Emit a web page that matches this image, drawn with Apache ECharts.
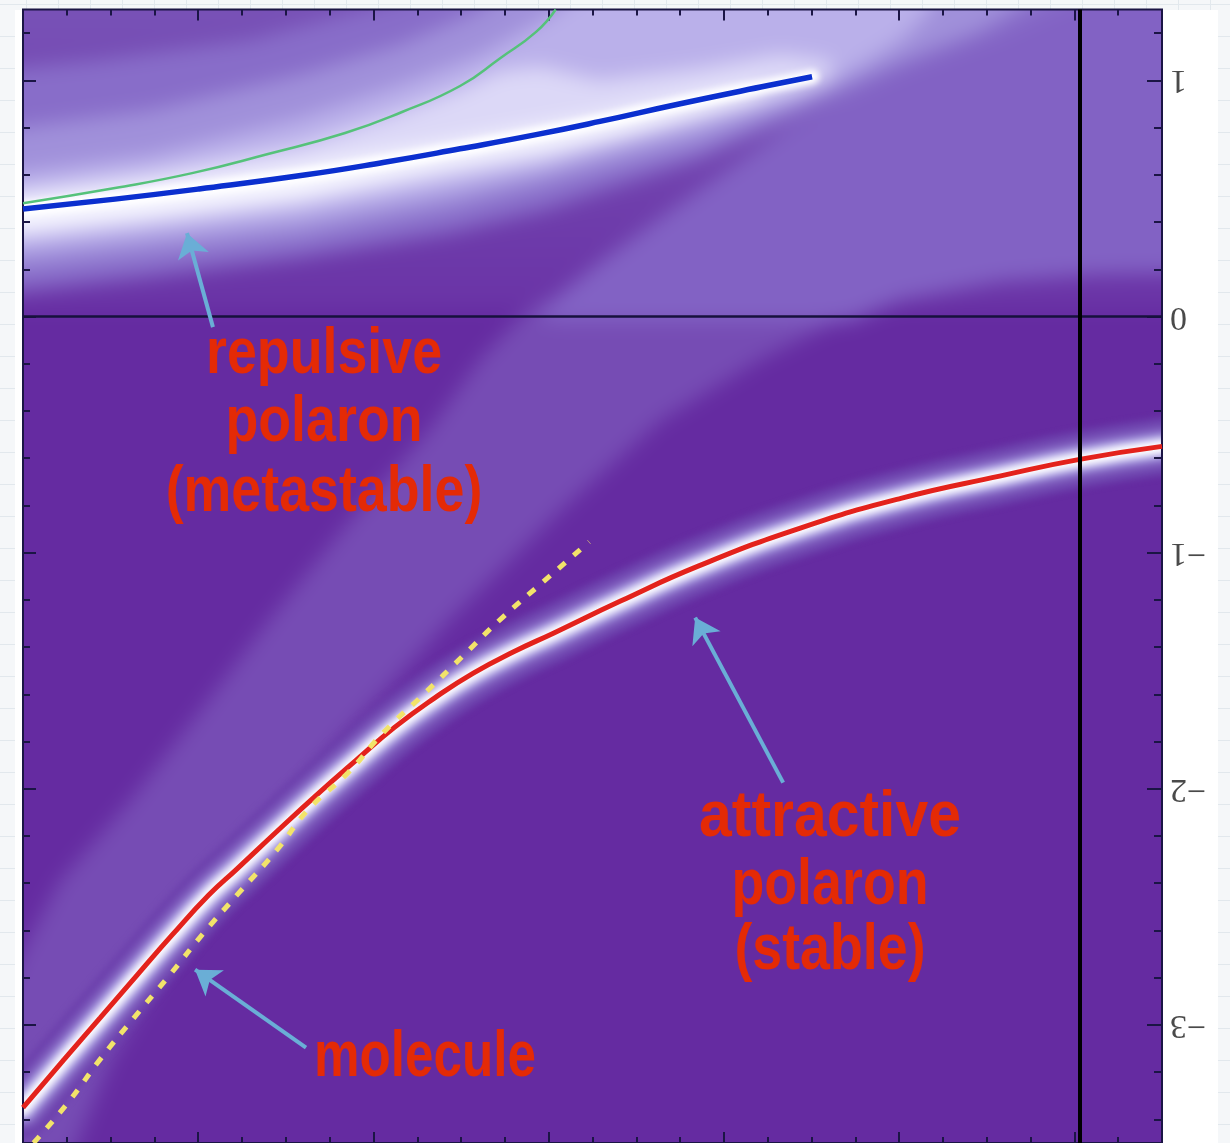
<!DOCTYPE html>
<html><head><meta charset="utf-8">
<script src="https://cdn.jsdelivr.net/npm/echarts@6/dist/echarts.min.js"></script>
<style>
html,body{margin:0;padding:0;width:1230px;height:1143px;overflow:hidden;}
body{position:relative;background-color:#f5f7f9;background-image:linear-gradient(#e2e8ed 1px,transparent 1px),linear-gradient(90deg,#e2e8ed 1px,transparent 1px);background-size:32px 32px;background-position:-6px 4px;}
#panel{position:absolute;left:15px;top:10px;width:1203px;height:1133px;background:#ffffff;}
.bg{position:absolute;left:-100px;top:-100px;width:1430px;height:1343px;clip-path:inset(109.5px 168px 99px 123px);}
#bgBig{filter:blur(10px);}
#bgFine{filter:blur(3px);}
#fg{position:absolute;left:0;top:0;width:1230px;height:1143px;}
</style></head><body>
<div id="panel"></div>
<div id="bgBig" class="bg"></div>
<div id="bgFine" class="bg"></div>
<div id="fg"></div>
<script>
// ---------- data (x: arbitrary units 0..6.5, y: energy) ----------
const yMajorTicks = [-3, -2, -1, 0, 1];
const yMinorTicks = [-3.4, -3.2, -2.8, -2.6, -2.4, -2.2, -1.8, -1.6, -1.4, -1.2, -0.8, -0.6, -0.4, -0.2, 0.2, 0.4, 0.6, 0.8, 1.2];

const attractiveX = [0, 0.23, 0.44, 0.65, 0.85, 1.06, 1.22, 1.45, 1.67, 1.90, 2.12, 2.35, 2.57, 2.80, 3.03, 3.41, 3.86, 4.44, 5.01, 5.58, 6.03, 6.5];
const attractiveY = [-3.35, -3.15, -2.97, -2.79, -2.62, -2.45, -2.34, -2.18, -2.03, -1.88, -1.74, -1.615, -1.51, -1.42, -1.34, -1.205, -1.055, -0.895, -0.77, -0.675, -0.605, -0.55];

const moleculeX = [0.06, 0.257, 0.439, 0.634, 0.839, 1.033, 1.233, 1.450, 1.627, 1.855, 2.055, 2.295, 2.506, 2.734, 2.962, 3.231];
const moleculeY = [-3.50, -3.329, -3.147, -2.969, -2.787, -2.609, -2.440, -2.258, -2.089, -1.932, -1.763, -1.594, -1.441, -1.276, -1.128, -0.954];

const repulsiveX = [0, 0.525, 1.005, 1.615, 2.055, 2.494, 2.928, 3.293, 3.744, 4.252, 4.503];
const repulsiveY = [0.455, 0.497, 0.540, 0.600, 0.652, 0.710, 0.770, 0.826, 0.900, 0.978, 1.015];

const greenX = [0, 0.525, 0.965, 1.398, 1.838, 2.163, 2.494, 2.723, 2.928, 3.04];
const greenY = [0.48, 0.544, 0.607, 0.688, 0.777, 0.866, 0.976, 1.094, 1.205, 1.30];

const zeroLineY = 0;
const verticalLineX = 6.03;

// annotation arrows: [tailX, tailY, tipX, tipY]
const arrowRepulsive = [1.084, -0.045, 0.936, 0.353];
const arrowAttractive = [4.338, -1.974, 3.836, -1.275];
const arrowMolecule = [1.615, -3.096, 0.982, -2.766];

// spectral-density shading: contour outlines [x, y]
const upperBase = [[-0.3, 0.03], [6.9, 0.03], [6.9, 1.5], [-0.3, 1.5]];
const continuumBand = [[-0.13,-2.89],[0,-2.68],[0.21,-2.39],[0.61,-2.05],[1.01,-1.67],[1.41,-1.28],[1.87,-0.86],[2.32,-0.48],[2.61,-0.18],[2.84,0.00],[2.98,0.07],
  [4.89,0.07],[4.21,-0.18],[3.64,-0.44],[3.07,-0.82],[2.44,-1.28],[1.81,-1.79],[1.30,-2.26],[0.84,-2.72],[0.50,-3.15],[0.27,-3.57],[-0.13,-3.57]];
const continuumRegion = [[2.92,0.00],[3.07,0.10],[3.29,0.23],[3.64,0.42],[3.98,0.60],[4.38,0.81],[4.89,1.01],[5.46,1.18],[5.92,1.34],[7.0,1.43],
  [7.0,0.19],[6.15,0.18],[5.58,0.15],[5.01,0.07],[4.72,-0.02],[3.07,-0.02]];
const glow1 = [[-0.13,0.10],[0,0.11],[0.73,0.17],[1.58,0.25],[2.44,0.355],[2.98,0.451],[3.41,0.557],[3.86,0.663],[4.38,0.832],[5.01,1.035],[5.58,1.19],[6.03,1.34],[6.15,1.43],
  [2.44,1.425],[2.15,1.34],[1.30,1.171],[0.44,1.086],[-0.13,1.044]];
const glow2 = [[-0.13,0.20],[0,0.21],[0.73,0.27],[1.58,0.34],[2.44,0.46],[2.98,0.557],[3.41,0.642],[3.86,0.726],[4.44,0.891],[5.01,1.08],[5.46,1.21],[5.75,1.34],[5.86,1.43],
  [2.84,1.425],[2.61,1.298],[2.15,1.15],[1.58,1.023],[0.73,0.874],[-0.13,0.79]];
const glow3 = [[-0.13,0.27],[0,0.28],[0.73,0.34],[1.58,0.41],[2.44,0.53],[2.98,0.62],[3.41,0.71],[3.86,0.798],[4.44,0.934],[4.72,1.035],[5.01,1.171],[5.18,1.298],[5.23,1.425],
  [3.29,1.425],[3.01,1.277],[2.61,1.107],[2.15,0.98],[1.58,0.84],[0.73,0.684],[-0.13,0.60]];
const glow4 = [[-0.13,0.32],[0,0.33],[0.73,0.39],[1.58,0.47],[2.44,0.59],[2.98,0.66],[3.41,0.75],[3.86,0.84],[4.32,0.93],[4.61,1.00],
  [4.61,1.08],[4.32,1.11],[3.86,1.05],[3.29,1.00],[2.95,1.06],[2.72,1.04],[2.49,0.96],[2.15,0.866],[1.58,0.726],[0.73,0.612],[-0.13,0.528]];
const glow5 = [[-0.13,0.37],[0,0.37],[0.73,0.43],[1.58,0.51],[2.44,0.64],[2.98,0.71],[3.41,0.77],[3.86,0.86],[4.21,0.93],
  [4.21,0.98],[3.86,0.94],[3.29,0.85],[2.44,0.74],[1.58,0.64],[0.73,0.56],[-0.13,0.49]];

// ---------- helpers ----------
function zip(xs, ys) { return xs.map((x, i) => [x, ys[i]]); }
const attractive = zip(attractiveX, attractiveY);
const molecule = zip(moleculeX, moleculeY);
const repulsive = zip(repulsiveX, repulsiveY);
const green = zip(greenX, greenY);

function poly(pts, fill) {
  return {
    type: 'custom', coordinateSystem: 'cartesian2d', clip: false, silent: true,
    data: [[0, 0]],
    renderItem: function (params, api) {
      return { type: 'polygon', shape: { points: pts.map(p => api.coord(p)) }, style: { fill: fill } };
    }
  };
}
function glowLine(data, width, color) {
  return { type: 'line', data: data, smooth: true, symbol: 'none', silent: true, clip: false,
    lineStyle: { color: color, width: width, cap: 'round', join: 'round' } };
}
const bgGrid = { left: 123, top: 109.5, width: 1139, height: 1134, show: false };
const bgX = { type: 'value', min: 0, max: 6.5, show: false };
const bgY = { type: 'value', min: -3.5, max: 1.3, show: false };

// ---------- broad shading layer ----------
const big = echarts.init(document.getElementById('bgBig'), null, { renderer: 'canvas' });
big.setOption({
  animation: false,
  backgroundColor: '#652ba1',
  grid: bgGrid, xAxis: bgX, yAxis: bgY,
  series: [
    poly(upperBase, new echarts.graphic.LinearGradient(0, 0, 0, 1, [{ offset: 0, color: '#7a56b9' }, { offset: 1, color: '#6a33a6' }])),
    poly(continuumBand, '#764cb4'),
    poly(continuumRegion, '#8262c4'),
    poly(glow1, '#886dc9'),
    poly(glow2, '#a090da'),
    poly(glow3, '#bab0ea'),
    poly(glow4, '#dcd8f7'),
    poly(glow5, '#f8f8ff')
  ]
});

// ---------- fine glow layer ----------
const fine = echarts.init(document.getElementById('bgFine'), null, { renderer: 'canvas' });
fine.setOption({
  animation: false,
  grid: bgGrid, xAxis: bgX, yAxis: bgY,
  series: [
    glowLine(attractive, 58, '#6c40ac'),
    glowLine(attractive, 44, '#7a56b9'),
    glowLine(attractive, 30, '#9a88d6'),
    glowLine(attractive, 19, '#d6d2f5'),
    glowLine(attractive, 11, '#ffffff'),
    glowLine(repulsive, 14, '#ffffff')
  ]
});

// ---------- foreground: axes, curves, annotations ----------
const tickColor = '#1b1545';
function xAx(pos) {
  return { type: 'value', min: 0, max: 6.5, interval: 1, position: pos,
    axisLine: { show: false, onZero: false }, axisLabel: { show: false }, splitLine: { show: false },
    axisTick: { show: true, inside: true, length: 11, lineStyle: { color: tickColor, width: 2 } },
    minorTick: { show: true, splitNumber: 4, length: 6, lineStyle: { color: tickColor, width: 2 } },
    minorSplitLine: { show: false } };
}
function yAx(pos, ticks, len, withLabels) {
  return { type: 'value', min: -3.5, max: 1.3, position: pos,
    axisLine: { show: false, onZero: false }, splitLine: { show: false },
    axisTick: { show: true, inside: true, length: len, customValues: ticks, lineStyle: { color: tickColor, width: 2 } },
    axisLabel: withLabels ? {
      show: true, customValues: yMajorTicks, rotate: 180, margin: 8,
      fontFamily: '"Liberation Serif", "DejaVu Serif", serif', fontSize: 34, color: '#4a4a4a',
      formatter: v => (v < 0 ? '\u2212' + Math.abs(v) : String(v))
    } : { show: false } };
}
const fg = echarts.init(document.getElementById('fg'), null, { renderer: 'canvas' });
const redFont = 'bold 64px "Liberation Sans", Arial, sans-serif';
function label(text, x, y, sx) {
  return { type: 'text', x: x, y: y, scaleX: sx, silent: true, z: 100,
    style: { text: text, font: redFont, fill: '#e42a06', align: 'center', verticalAlign: 'middle', textAlign: 'center', textVerticalAlign: 'middle' } };
}
function arrow(a) { return { coords: [[a[0], a[1]], [a[2], a[3]]] }; }
fg.setOption({
  animation: false,
  grid: { left: 23, top: 9.5, width: 1139, height: 1134, show: true, borderColor: tickColor, borderWidth: 2, backgroundColor: 'transparent' },
  xAxis: [xAx('bottom'), xAx('top')],
  yAxis: [yAx('right', yMajorTicks, 15, true), yAx('right', yMinorTicks, 8, false), yAx('left', yMajorTicks, 13, false), yAx('left', yMinorTicks, 7, false)],
  series: [
    { type: 'line', name: 'attractive polaron', data: attractive, smooth: true, symbol: 'none', z: 3,
      lineStyle: { color: '#e3221c', width: 5 },
      markLine: { silent: true, symbol: ['none', 'none'], label: { show: false },
        data: [
          { yAxis: zeroLineY, lineStyle: { color: '#17113d', width: 2.5, type: 'solid' } },
          { xAxis: verticalLineX, lineStyle: { color: '#000000', width: 4, type: 'solid' } }
        ] } },
    { type: 'line', name: 'molecule', data: molecule, smooth: true, symbol: 'none', z: 4,
      lineStyle: { color: '#f2e36a', width: 5, type: [9, 11] } },
    { type: 'line', name: 'repulsive polaron', data: repulsive, smooth: true, symbol: 'none', z: 3,
      lineStyle: { color: '#0b2fcf', width: 5.5 } },
    { type: 'line', name: 'green', data: green, smooth: true, symbol: 'none', z: 3,
      lineStyle: { color: '#55c27a', width: 2.5 } },
    { type: 'lines', coordinateSystem: 'cartesian2d', z: 5, symbol: ['none', 'arrow'], symbolSize: 24,
      lineStyle: { color: '#6aaed6', width: 4, opacity: 1, curveness: 0 },
      data: [arrow(arrowRepulsive), arrow(arrowAttractive), arrow(arrowMolecule)] }
  ],
  graphic: [
    label('repulsive', 324, 355, 0.84),
    label('polaron', 324, 423, 0.84),
    label('(metastable)', 324, 493, 0.84),
    label('attractive', 830, 818, 0.92),
    label('polaron', 830, 886, 0.84),
    label('(stable)', 830, 951, 0.84),
    label('molecule', 425, 1058, 0.8)
  ]
});
</script>
</body></html>
